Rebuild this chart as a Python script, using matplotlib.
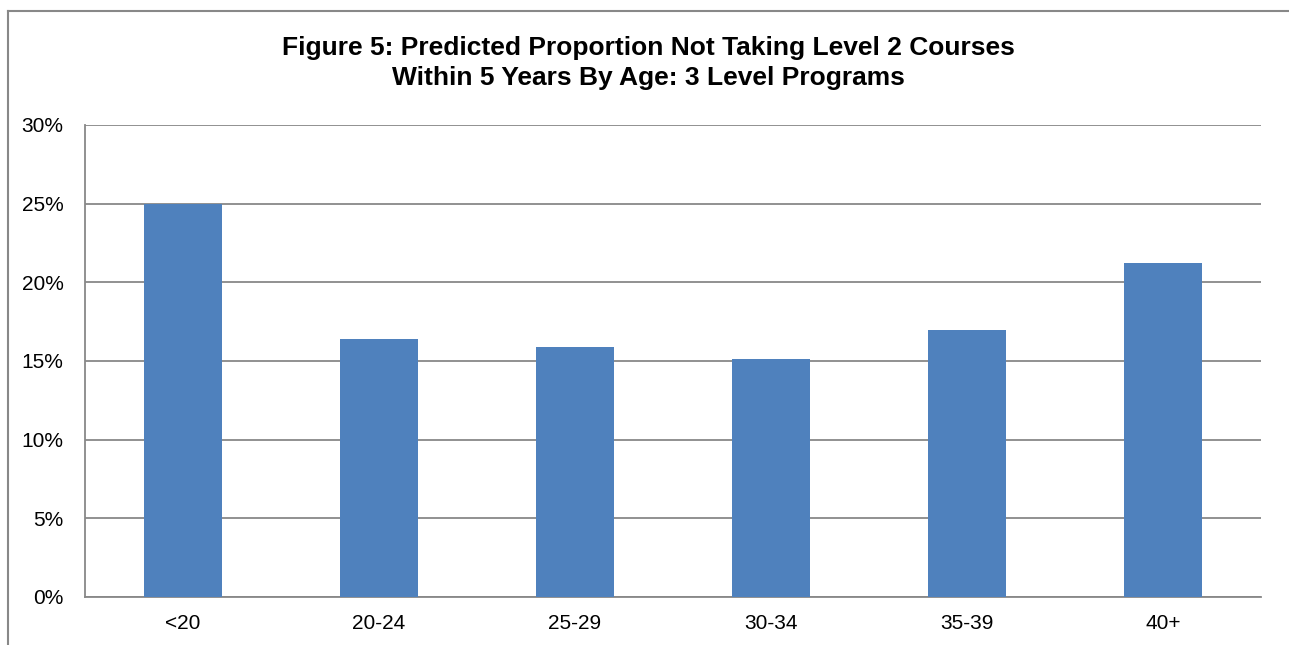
import matplotlib.pyplot as plt
from matplotlib.lines import Line2D
from matplotlib.ticker import PercentFormatter

plt.rcParams['font.family'] = ['Liberation Sans', 'DejaVu Sans']

age_groups = ["<20", "20-24", "25-29", "30-34", "35-39", "40+"]
not_taking = [25.0, 16.4, 15.9, 15.1, 17.0, 21.2]
y_ticks = [0, 5, 10, 15, 20, 25, 30]

W, H = 1289, 645
fig = plt.figure(figsize=(W / 100, H / 100), dpi=100)
ax = fig.add_axes([85 / W, 1 - 597 / H, (1261 - 85) / W, (597 - 125) / H])

ax.bar(age_groups, not_taking, width=0.4, color="#4F81BD", zorder=3)
ax.set_xlim(-0.5, len(age_groups) - 0.5)
ax.set_ylim(0, 30)
ax.set_yticks(y_ticks)
ax.yaxis.set_major_formatter(PercentFormatter(decimals=0))
ax.grid(axis="y", color="#888888", linewidth=1.3, zorder=0)
ax.tick_params(axis="both", length=0, labelsize=15)
ax.tick_params(axis="y", pad=15.5)
ax.tick_params(axis="x", pad=12)
for side in ["top", "right"]:
    ax.spines[side].set_visible(False)
for side in ["left", "bottom"]:
    ax.spines[side].set_color("#888888")
    ax.spines[side].set_linewidth(1.3)

# outer chart border (left and top edges visible)
fig.add_artist(Line2D([7.5 / W, 7.5 / W], [0, 1 - 11 / H], transform=fig.transFigure,
                      color="#888888", linewidth=1.5))
fig.add_artist(Line2D([7.5 / W, 1], [1 - 11 / H, 1 - 11 / H], transform=fig.transFigure,
                      color="#888888", linewidth=1.5))

fig.text(648 / W, 1 - 63 / H,
         "Figure 5: Predicted Proportion Not Taking Level 2 Courses\nWithin 5 Years By Age: 3 Level Programs",
         ha="center", va="center", fontsize=19, fontweight="bold", linespacing=1.28)

fig.savefig("out.png", dpi=100)
